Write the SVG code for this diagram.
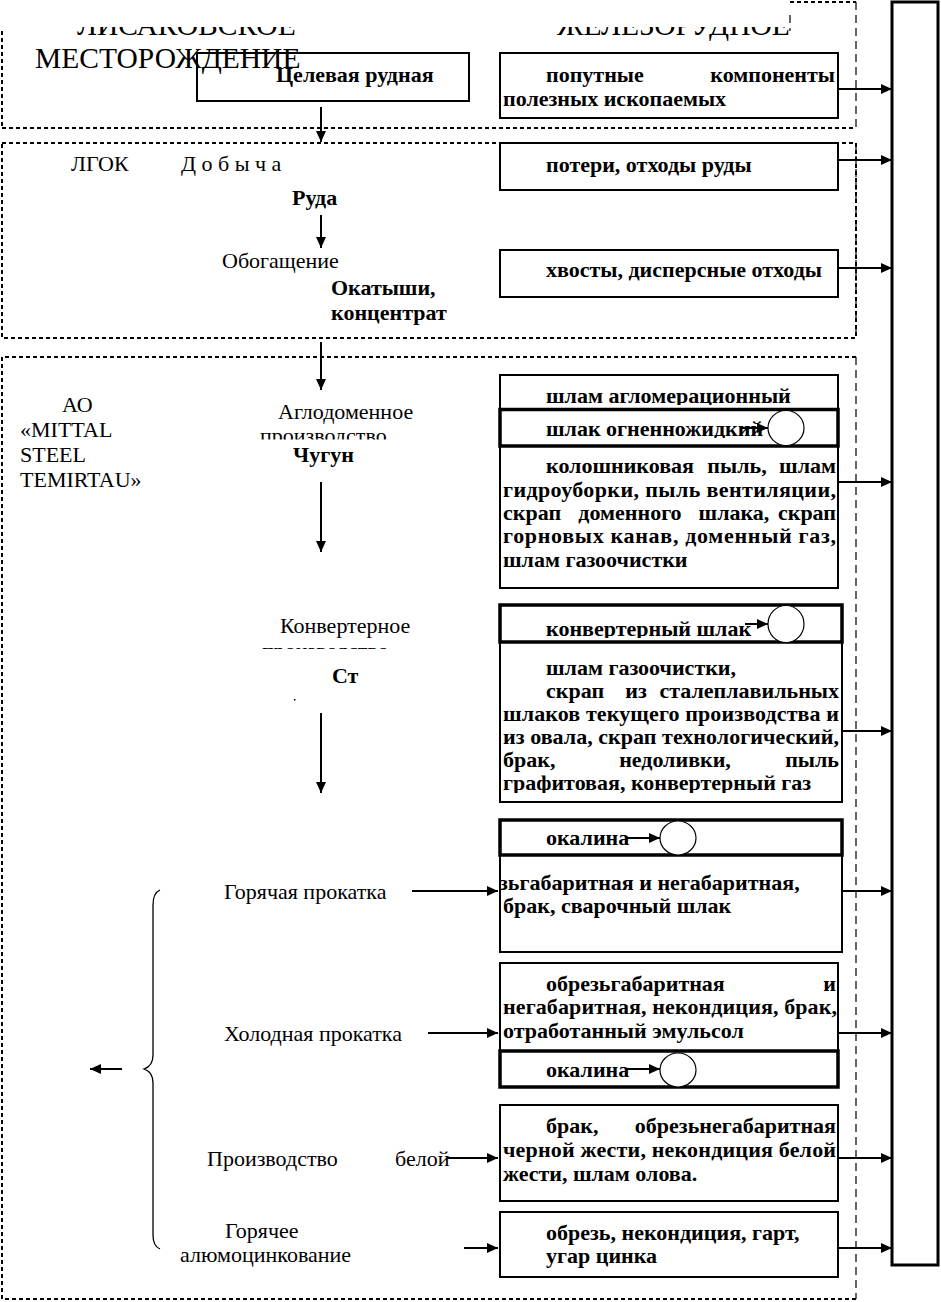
<svg xmlns="http://www.w3.org/2000/svg" width="941" height="1302" viewBox="0 0 941 1302">
<style>
text { font-family: 'Liberation Serif', 'Times New Roman', serif; font-size: 22px; fill: #000; }
.b { font-weight: bold; }
.t { font-size: 29.5px; }
.e { text-anchor: end; }
.m { text-anchor: middle; }
.box { fill: none; stroke: #000; stroke-width: 2; }
.thk { fill: none; stroke: #000; stroke-width: 3.5; }
.fh { fill: none; stroke: #000; stroke-width: 2; stroke-dasharray: 4 3; }
.fv { fill: none; stroke: #000; stroke-width: 1.2; stroke-dasharray: 8 5; }
.conn line, .conn path { stroke: #000; stroke-width: 2; fill: none; }
.ar { marker-end: url(#ah); }
.circ { fill: #fff; stroke: #000; stroke-width: 1.2; }
</style>
<defs>
<marker id="ah" markerUnits="userSpaceOnUse" markerWidth="11" markerHeight="10" refX="11" refY="5" orient="auto">
<path d="M0,0 L11,5 L0,10 z" fill="#000"/>
</marker>
<clipPath id="cTop"><rect x="0" y="27" width="941" height="100"/></clipPath>
<clipPath id="cAg"><rect x="0" y="380" width="941" height="59.5"/></clipPath>
<clipPath id="cKv"><rect x="0" y="600" width="941" height="49"/></clipPath>
<clipPath id="cR1"><rect x="500" y="380" width="338" height="25"/></clipPath>
<clipPath id="cR2"><rect x="500" y="412" width="338" height="26"/></clipPath>
<clipPath id="cR3"><rect x="500" y="608" width="342" height="30"/></clipPath>
<clipPath id="cR4"><rect x="500" y="645" width="342" height="148"/></clipPath>
<clipPath id="cR5"><rect x="500" y="858" width="342" height="92"/></clipPath>
</defs>

<g id="frames">
<line class="fh" x1="2" y1="128" x2="856" y2="128"/>
<line class="fh" x1="2" y1="31" x2="2" y2="128"/>
<line class="fv" x1="856" y1="2" x2="856" y2="128"/>
<line class="fh" x1="790" y1="2" x2="856" y2="2"/>
<line class="fv" x1="790" y1="15" x2="790" y2="31"/>
<rect class="fh" x="2" y="143" width="854" height="195"/>
<line class="fv" x1="856" y1="143" x2="856" y2="338"/>
<path class="fh" d="M856,357 L2,357 L2,1299 L856,1299"/>
<line class="fv" x1="856" y1="357" x2="856" y2="1299"/>
</g>

<g id="collector">
<rect x="892" y="2" width="46" height="1263" fill="none" stroke="#000" stroke-width="3"/>
</g>

<g id="titles" clip-path="url(#cTop)">
<text class="t" x="77" y="35">ЛИСАКОВСКОЕ</text>
<text class="t" x="557" y="35">ЖЕЛЕЗОРУДНОЕ</text>
<text class="t" x="35" y="68">МЕСТОРОЖДЕНИЕ</text>
</g>

<g id="node-target">
<rect class="box" x="197" y="53" width="272" height="48"/>
<text class="b" x="276" y="82">Целевая рудная</text>
</g>

<g id="node-byproducts">
<rect class="box" x="500" y="53" width="338" height="65"/>
<text class="b" x="546" y="82">попутные</text>
<text class="b e" x="835" y="82">компоненты</text>
<text class="b" x="503" y="106">полезных ископаемых</text>
</g>

<g id="node-lgok">
<text x="71" y="171">ЛГОК</text>
<text x="181" y="171">Д о б ы ч а</text>
<text class="b" x="292" y="205">Руда</text>
<text x="222" y="268">Обогащение</text>
<text class="b" x="331" y="295">Окатыши,</text>
<text class="b" x="331" y="320">концентрат</text>
</g>

<g id="node-losses">
<rect class="box" x="500" y="143" width="338" height="47"/>
<text class="b" x="546" y="172">потери, отходы руды</text>
</g>

<g id="node-tails">
<rect class="box" x="500" y="250" width="338" height="47"/>
<text class="b" x="546" y="277">хвосты, дисперсные отходы</text>
</g>

<g id="node-mittal">
<text x="62" y="412">АО</text>
<text x="20" y="437">«MITTAL</text>
<text x="20" y="462">STEEL</text>
<text x="20" y="487">TEMIRTAU»</text>
</g>

<g id="node-aglo">
<g clip-path="url(#cAg)">
<text x="278" y="419">Аглодоменное</text>
<text x="260" y="443">производство</text>
</g>
<text class="b" x="293" y="462">Чугун</text>
</g>

<g id="node-aglo-waste">
<rect class="box" x="500" y="375" width="338" height="213"/>
<rect class="thk" x="500" y="409.5" width="338" height="36.5"/>
<text class="b" x="546" y="403" clip-path="url(#cR1)">шлам агломерационный</text>
<text class="b" x="546" y="436" clip-path="url(#cR2)">шлак огненножидкий</text>
<ellipse class="circ" cx="786" cy="428" rx="18" ry="17.5"/>
<text class="b" x="546" y="473">колошниковая</text>
<text class="b m" x="737" y="473">пыль,</text>
<text class="b e" x="836" y="473">шлам</text>
<text class="b" x="503" y="497" textLength="333" lengthAdjust="spacing">гидроуборки, пыль вентиляции,</text>
<text class="b" x="503" y="520">скрап</text>
<text class="b m" x="630" y="520">доменного</text>
<text class="b m" x="734" y="520">шлака,</text>
<text class="b e" x="836" y="520">скрап</text>
<text class="b" x="503" y="543" textLength="333" lengthAdjust="spacing">горновых канав, доменный газ,</text>
<text class="b" x="503" y="567">шлам газоочистки</text>
</g>

<g id="node-converter">
<g clip-path="url(#cKv)">
<text x="280" y="633">Конвертерное</text>
<text x="262" y="658">производство</text>
</g>
<text class="b" x="332" y="683">Ст</text>
<rect x="294" y="699" width="1.5" height="1.5" fill="#000"/>
</g>

<g id="node-converter-waste">
<rect class="thk" x="500" y="605" width="342" height="37"/>
<rect class="box" x="500" y="642" width="342" height="160"/>
<text class="b" x="546" y="636" clip-path="url(#cR3)">конвертерный шлак</text>
<ellipse class="circ" cx="786" cy="624" rx="18" ry="18.5"/>
<g clip-path="url(#cR4)">
<text class="b" x="546" y="675">шлам газоочистки,</text>
<text class="b" x="546" y="698">скрап</text>
<text class="b m" x="636" y="698">из</text>
<text class="b e" x="839" y="698">сталеплавильных</text>
<text class="b" x="503" y="721" textLength="336" lengthAdjust="spacing">шлаков текущего производства и</text>
<text class="b" x="503" y="744" textLength="336" lengthAdjust="spacing">из овала, скрап технологический,</text>
<text class="b" x="503" y="767">брак,</text>
<text class="b m" x="675" y="767">недоливки,</text>
<text class="b e" x="839" y="767">пыль</text>
<text class="b" x="503" y="790">графитовая, конвертерный газ</text>
</g>
</g>

<g id="node-hot-rolling">
<text x="224" y="899">Горячая прокатка</text>
</g>

<g id="node-hot-waste">
<rect class="thk" x="500" y="820" width="342" height="35"/>
<rect class="box" x="500" y="855" width="342" height="97"/>
<text class="b" x="546" y="845">окалина</text>
<ellipse class="circ" cx="678" cy="838" rx="18" ry="17"/>
<text class="b" x="499" y="890" clip-path="url(#cR5)">зьгабаритная и негабаритная,</text>
<text class="b" x="503" y="913">брак, сварочный шлак</text>
</g>

<g id="node-cold-rolling">
<text x="224" y="1041">Холодная прокатка</text>
</g>

<g id="node-cold-waste">
<rect class="box" x="500" y="963" width="338" height="88"/>
<text class="b" x="546" y="991">обрезьгабаритная</text>
<text class="b e" x="836" y="991">и</text>
<text class="b" x="503" y="1014" textLength="334" lengthAdjust="spacing">негабаритная, некондиция, брак,</text>
<text class="b" x="503" y="1038">отработанный эмульсол</text>
<rect class="thk" x="500" y="1051" width="338" height="36"/>
<text class="b" x="546" y="1077">окалина</text>
<ellipse class="circ" cx="678" cy="1070" rx="18" ry="17"/>
</g>

<g id="node-tin">
<text x="207" y="1166">Производство</text>
<text x="395" y="1166">белой</text>
</g>

<g id="node-tin-waste">
<rect class="box" x="500" y="1105" width="338" height="96"/>
<text class="b" x="546" y="1133">брак,</text>
<text class="b e" x="836" y="1133">обрезьнегабаритная</text>
<text class="b" x="503" y="1157" textLength="333" lengthAdjust="spacing">черной жести, некондиция белой</text>
<text class="b" x="503" y="1181">жести, шлам олова.</text>
</g>

<g id="node-galv">
<text x="225" y="1238">Горячее</text>
<text x="180" y="1262">алюмоцинкование</text>
</g>

<g id="node-galv-waste">
<rect class="box" x="500" y="1212" width="338" height="65"/>
<text class="b" x="546" y="1240">обрезь, некондиция, гарт,</text>
<text class="b" x="546" y="1263">угар цинка</text>
</g>

<g id="brace">
<path d="M160,890 Q153,893 153,905 L153,1055 Q153,1066 144,1069 Q153,1072 153,1083 L153,1235 Q153,1246 160,1249" fill="none" stroke="#000" stroke-width="1.3"/>
</g>

<g id="connectors" class="conn">
<line class="ar" x1="321" y1="107" x2="321" y2="142"/>
<line class="ar" x1="321" y1="215" x2="321" y2="248"/>
<line class="ar" x1="321" y1="342" x2="321" y2="390"/>
<line class="ar" x1="321" y1="482" x2="321" y2="552"/>
<line class="ar" x1="321" y1="713" x2="321" y2="793"/>
<line class="ar" x1="838" y1="89" x2="892" y2="89"/>
<line class="ar" x1="838" y1="160" x2="892" y2="160"/>
<line class="ar" x1="838" y1="268" x2="892" y2="268"/>
<line class="ar" x1="838" y1="482" x2="892" y2="482"/>
<line class="ar" x1="842" y1="731" x2="892" y2="731"/>
<line class="ar" x1="842" y1="891" x2="892" y2="891"/>
<line class="ar" x1="838" y1="1033" x2="892" y2="1033"/>
<line class="ar" x1="838" y1="1158" x2="892" y2="1158"/>
<line class="ar" x1="838" y1="1248" x2="892" y2="1248"/>
<line class="ar" x1="741" y1="428" x2="768" y2="428"/>
<line class="ar" x1="745" y1="624" x2="768" y2="624"/>
<line class="ar" x1="627" y1="838" x2="660" y2="838"/>
<line class="ar" x1="627" y1="1069" x2="660" y2="1069"/>
<line class="ar" x1="412" y1="891" x2="498" y2="891"/>
<line class="ar" x1="428" y1="1033" x2="498" y2="1033"/>
<line class="ar" x1="447" y1="1158" x2="498" y2="1158"/>
<line class="ar" x1="464" y1="1248" x2="498" y2="1248"/>
<line class="ar" x1="122" y1="1069" x2="90" y2="1069"/>
</g>
</svg>
